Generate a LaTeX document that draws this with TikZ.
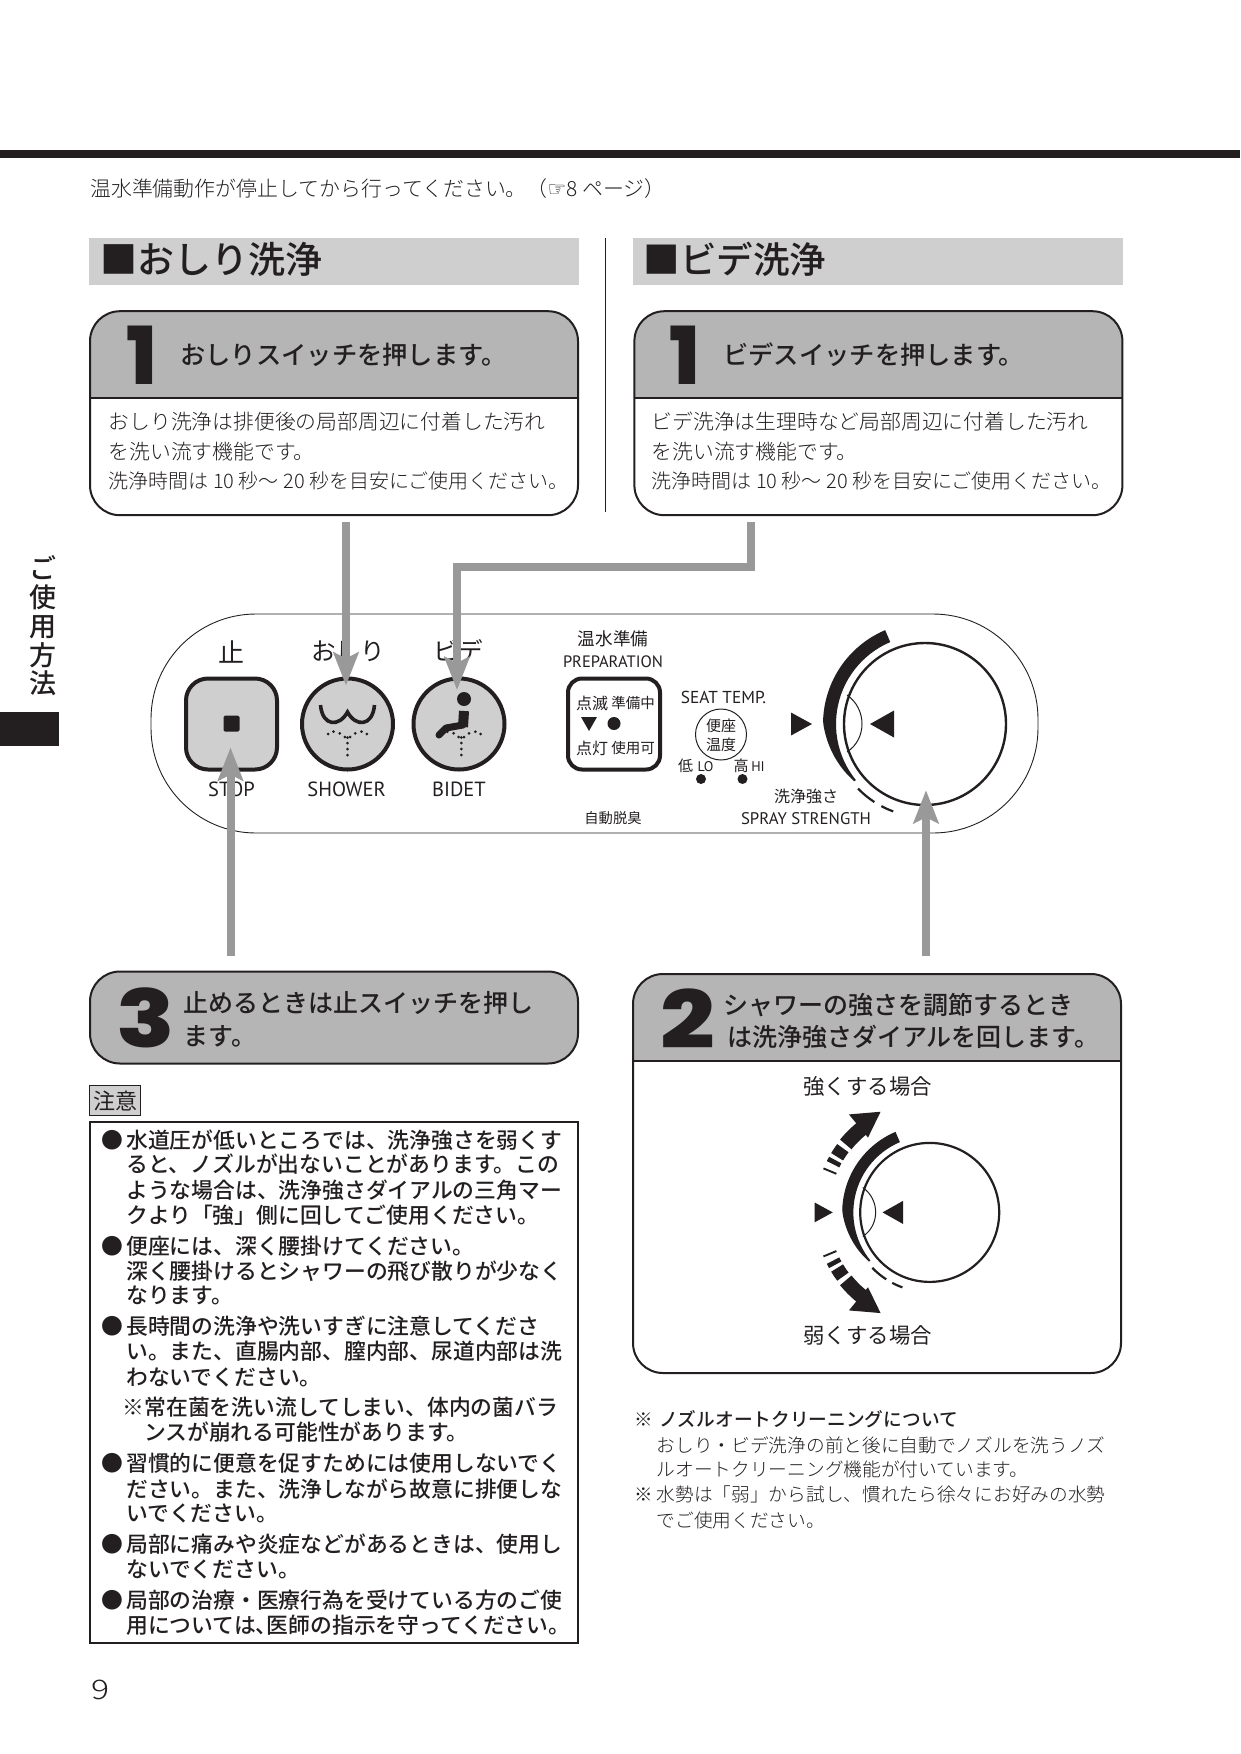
\documentclass[tikz,border=0pt]{standalone}
\usepackage{fontspec}
\setmainfont{Noto Sans CJK JP}
\newfontfamily\lightjp{Noto Sans CJK JP Light}
\newfontfamily\medjp{Noto Sans CJK JP Medium}
\newfontfamily\numfont{Poppins ExtraBold}
\newfontfamily\latnfont{PT Sans}
\newfontfamily\symfont{DejaVu Sans}
\usetikzlibrary{arrows.meta, positioning, calc}
\definecolor{ink}{HTML}{231F20}
\definecolor{headgray}{HTML}{B5B5B5}
\definecolor{bargray}{HTML}{CFCFCF}
\definecolor{arrowgray}{HTML}{999999}
\newcommand{\fsz}[1]{\fontsize{#1}{#1}\selectfont}
\tikzset{
  pics/spraydots/.style={code={
    \foreach \dx/\dy in {0/13.5, 0/19, 0/25, 0/31, 2.7/13, 7.7/9.3, 14/7.7, 19.3/10, -2.7/13, -7.7/9.3, -14/7.7, -19.3/10}
      \fill[ink] (\dx,\dy) circle[radius=1.5];
  }},
  pics/dialmark/.style={code={
    \fill[ink] plot[domain=247:141, samples=40] (\x:{89+2+11*min(1,(\x-141)/40)})
      -- plot[domain=141:247, samples=30] (\x:89) -- cycle;
    \draw[ink, line width=2.2pt] plot[domain=136:123, samples=8] (\x:93);
    \draw[ink, line width=2.2pt] plot[domain=118:110, samples=6] (\x:93);
    \fill[ink] (-134,-11.5) -- (-113,0) -- (-134,11.5) -- cycle;
    \fill[ink] (-31,-13.5) -- (-55,0) -- (-31,13.5) -- cycle;
    \draw[ink, line width=1pt] (-78,-29) .. controls (-58,-15) and (-58,15) .. (-78,28);
  }}
}
\begin{document}
\begin{tikzpicture}[
  x=1pt, y=-1pt,
  lite/.style={inner sep=0pt, anchor=base west, text=ink, font=\lightjp\fsz{#1}, yshift={-.45*#1 pt}},
  medm/.style={inner sep=0pt, anchor=base west, text=ink, font=\medjp\fsz{#1}, yshift={-.45*#1 pt}},
  regl/.style={inner sep=0pt, anchor=base west, text=ink, font=\fsz{#1}, yshift={-.45*#1 pt}},
  latn/.style={inner sep=0pt, anchor=base, text=ink, font=\latnfont\fsz{#1}, yshift={-.40*#1 pt}},
  numeral/.style={inner sep=0pt, text=ink, font=\numfont\fsz{80}},
  headbar/.style={fill=bargray, minimum width=490pt, minimum height=47pt, inner sep=0pt},
  stepbox/.style={draw=ink, line width=2pt, rounded corners=30pt, minimum width=488pt, minimum height=#1, inner sep=0pt},
  stepcap/.style={stepbox=204pt, fill=white, path picture={
    \fill[headgray, sharp corners] (path picture bounding box.north west) rectangle ([yshift=-87pt]path picture bounding box.north east);
    \draw[ink, line width=2pt, sharp corners] ([yshift=-87pt]path picture bounding box.north west) -- ([yshift=-87pt]path picture bounding box.north east);}},
  button/.style={draw=ink, line width=4pt, fill=bargray, minimum size=91pt, inner sep=0pt},
  grayarrow/.style={draw=arrowgray, line width=8pt, -{Stealth[length=33pt, width=25pt, inset=6pt]}}
]
  \useasboundingbox (0,0) rectangle (1240,1754);
  \fill[ink] (0,150) rectangle (1240,157.5);
  \node[lite=20.9] (pretext) at (90,187) {温水準備動作が停止してから行ってください。（{\symfont ☞}8 ページ）};

  \fill[ink] (0,712) rectangle (59,746);
  \node[inner sep=0pt, text=ink, align=center, font=\medjp\fontsize{27}{28.8}\selectfont] (sidetab) at (42.5,626) {ご\\使\\用\\方\\法};

  \node[headbar] (oshead) at (334,261.5) {};
  \node[headbar, right=54pt of oshead] (bdhead) {};
  \node[medm=37] (ostitle) at (100,257) {■おしり洗浄};
  \node[medm=36.5] (bdtitle) at (643.5,257) {■ビデ洗浄};
  \draw[ink, line width=.9pt] (605,238) -- (605,512);

  \node[stepcap, below=25pt of oshead] (osbox) {};
  \node[stepcap, below=25pt of bdhead] (bdbox) {};
  \node[numeral] (osnum) at (141.5,355) {1};
  \node[numeral] (bdnum) at (685,355) {1};
  \node[medm=25.3] (osstep) at (180,353) {おしりスイッチを押します。};
  \node[medm=25.3] (bdstep) at (723,353) {ビデスイッチを押します。};
  \node[lite=20.8] (osl1) at (108.5,420) {おしり洗浄は排便後の局部周辺に付着した汚れ};
  \node[lite=20.8] (osl2) at (108.5,450) {を洗い流す機能です。};
  \node[lite=20] (osl3) at (108.5,479.6) {洗浄時間は 10 秒〜 20 秒を目安にご使用ください。};
  \node[lite=20.8] (bdl1) at (651.5,420) {ビデ洗浄は生理時など局部周辺に付着した汚れ};
  \node[lite=20.8] (bdl2) at (651.5,450) {を洗い流す機能です。};
  \node[lite=20] (bdl3) at (651.5,479.6) {洗浄時間は 10 秒〜 20 秒を目安にご使用ください。};

  \node[draw=ink, line width=.9pt, rounded corners=105pt, minimum width=887pt, minimum height=219pt] (panel) at (594.5,723.5) {};
  \node[button, rounded corners=22pt] (stopbtn) at (231.5,724) {};
  \node[button, circle] (shower) at (347.5,724) {};
  \node[button, circle] (bidet) at (459,724) {};
  \fill[ink, rounded corners=1.5pt] (223.5,715.5) rectangle (239.5,731.5);
  \begin{scope}[shift={(shower.center)}]
    \draw[ink, line width=3.6pt] (-27,-19) .. controls (-25,3) and (-8,3) .. (0,-12) .. controls (8,3) and (25,3) .. (27,-19);
    \pic {spraydots};
  \end{scope}
  \begin{scope}[shift={(bidet.center)}]
    \fill[ink] (5,-25) circle[radius=7];
    \draw[ink, line width=10pt] (5,-13) -- (4,3);
    \draw[ink, line width=7pt, line join=round, line cap=round] (4,1) -- (-13,4) -- (-20,11);
    \pic at (2.3,0) {spraydots};
  \end{scope}
  \node[regl=26, anchor=base] (stoplab) at (231.5,651) {止};
  \node[regl=24.6, anchor=base] (showerlab) at (348,649.5) {おしり};
  \node[regl=24.6, anchor=base] (bidetlab) at (458.5,649.5) {ビデ};
  \node[latn=20.5] (stopen) at (231.5,788.5) {STOP};
  \node[latn=20.5] (showeren) at (346.6,788.5) {SHOWER};
  \node[latn=20.5] (biden) at (459,788.5) {BIDET};

  \node[regl=17.6, anchor=base] (preplab) at (613,637.5) {温水準備};
  \node[latn=16.5] (prepen) at (613,661) {PREPARATION};
  \node[draw=ink, line width=4pt, rounded corners=14pt, minimum width=92pt, minimum height=91pt, inner sep=0pt] (prepbox) at (614,724) {};
  \node[regl=16, anchor=base] (blink) at (592,702) {点滅};
  \node[regl=14.5, anchor=base] (prepa) at (633,702) {準備中};
  \node[regl=16, anchor=base] (lit) at (592,747) {点灯};
  \node[regl=14.5, anchor=base] (ready) at (633,747) {使用可};
  \fill[ink] (581,717) -- (597,717) -- (589,731) -- cycle;
  \fill[ink] (614,723.5) circle[radius=6.5];

  \node[latn=17.3] (seaten) at (723.5,697) {SEAT TEMP.};
  \node[draw=ink, line width=1pt, circle, minimum size=51pt, inner sep=0pt] (seatdial) at (721,734.5) {};
  \node[regl=15, anchor=base] (seata) at (721,724.5) {便座};
  \node[regl=15, anchor=base] (seatb) at (721,743.5) {温度};
  \node[regl=15, anchor=base] (lowlab) at (685.5,765) {低};
  \node[latn=14] (lowen) at (705.5,766) {LO};
  \node[regl=15, anchor=base] (highlab) at (741,765) {高};
  \node[latn=14] (highen) at (758,766) {HI};
  \fill[ink] (701,779) circle[radius=5];
  \fill[ink] (742.5,779) circle[radius=5];
  \node[regl=16, anchor=base] (spraylab) at (806,795) {洗浄強さ};
  \node[latn=16.8] (sprayen) at (806,817.5) {SPRAY STRENGTH};
  \node[regl=14.3, anchor=base] (odorlab) at (613,817.5) {自動脱臭};

  \node[draw=ink, line width=2.4pt, circle, minimum size=162pt, inner sep=0pt] (dial) at (925,724) {};
  \pic at (dial.center) {dialmark};

  \draw[grayarrow] ([xshift=-1.5pt,yshift=-6pt]osbox.south -| shower.north) -- ([xshift=-1.5pt,yshift=-9pt]shower.north);
  \coordinate (bdfoot) at ([yshift=-6pt]bdbox.south -| 751,0);
  \coordinate (bdbend) at (457,567);
  \draw[grayarrow] (bdfoot) |- (bdbend) -- (457,690);
  \coordinate (stopfoot) at ([xshift=-1pt]stopbtn.south |- 0,956);
  \draw[grayarrow] (stopfoot) -- ([xshift=-1pt,yshift=24pt]stopbtn.south);
  \coordinate (sprayfoot) at ([xshift=1pt]dial.south |- 0,956);
  \draw[grayarrow] (sprayfoot) -- ([xshift=1pt,yshift=16pt]dial.south);

  \node[stepbox=92pt, fill=headgray] (stopstep) at (334,1017.5) {};
  \node[numeral] (stopnum) at (145.5,1018) {\scalebox{1.2}[1]{3}};
  \node[medm=25] (stopa) at (183.5,1001) {止めるときは止スイッチを押し};
  \node[medm=25] (stopb) at (183.5,1034) {ます。};

  \node[draw=ink, line width=1pt, fill=bargray, minimum width=51pt, minimum height=30pt, inner sep=0pt] (warntag) at (115,1100) {};
  \node[regl=22, anchor=base] (warnlab) at (115,1100) {注意};
  \node[draw=ink, line width=2pt, minimum width=488pt, minimum height=521pt, inner sep=0pt] (warnbox) at (334,1382) {};
  \foreach \yb [count=\i] in {1138.3, 1244.6, 1325, 1461.5, 1543.1, 1599}
    \node[regl=21.8, anchor=base] (dot\i) at (112,\yb) {●};
  \foreach \xl/\yl/\ltxt [count=\i] in {
    126/1138.3/水道圧が低いところでは、洗浄強さを弱くす,
    126/1163/ると、ノズルが出ないことがあります。この,
    126/1188.7/ような場合は、洗浄強さダイアルの三角マー,
    126/1213.3/クより「強」側に回してご使用ください。,
    126/1244.6/便座には、深く腰掛けてください。,
    126/1269.2/深く腰掛けるとシャワーの飛び散りが少なく,
    126/1293.8/なります。,
    126/1325/長時間の洗浄や洗いすぎに注意してくださ,
    126/1349.7/い。また、直腸内部、膣内部、尿道内部は洗,
    126/1375.4/わないでください。,
    122.5/1405.6/※常在菌を洗い流してしまい、体内の菌バラ,
    144/1430.2/ンスが崩れる可能性があります。,
    126/1461.5/習慣的に便意を促すためには使用しないでく,
    126/1487.2/ださい。また、洗浄しながら故意に排便しな,
    126/1511.8/いでください。,
    126/1543.1/局部に痛みや炎症などがあるときは、使用し,
    126/1567.7/ないでください。,
    126/1599/局部の治療・医療行為を受けている方のご使,
    126/1623.6/用については、\kern-.5em 医師の指示を守ってください。}
    \node[medm=21.8] (warn\i) at (\xl,\yl) {\ltxt};
  \node[lite=27] (pagenum) at (91,1687) {\scalebox{1.25}[1]{9}};

  \node[stepcap, stepbox=399pt] (dialbox) at (877,1173.5) {};
  \node[numeral] (dialnum) at (688,1019) {\scalebox{1.2}[1]{2}};
  \node[medm=25] (diala) at (723.5,1003) {シャワーの強さを調節するとき};
  \node[medm=25] (dialb) at (727,1035.5) {は洗浄強さダイアルを回します。};
  \node[regl=21.4, anchor=base] (uplab) at (867.7,1084.5) {強くする場合};
  \node[regl=21.4, anchor=base] (downlab) at (867.7,1334) {弱くする場合};
  \node[draw=ink, line width=2.2pt, circle, minimum size=139pt, inner sep=0pt] (dialb2) at (929.7,1212.4) {};
  \pic[scale=.858] at (dialb2.center) {dialmark};
  \begin{scope}[shift={(dialb2.center)}]
    \foreach \sgn in {1,-1} {
      \draw[ink, line width=14pt] plot[domain=202:203, samples=2] ({\sgn*\x}:108);
      \draw[ink, line width=14pt] plot[domain=206.5:209, samples=3] ({\sgn*\x}:108);
      \draw[ink, line width=14pt] plot[domain=211:216.5, samples=4] ({\sgn*\x}:108);
      \draw[ink, line width=15pt] plot[domain=219:232, samples=6] ({\sgn*\x}:108);
      \fill[ink] ({\sgn*230.5}:127) -- ({\sgn*244}:112) -- ({\sgn*230.5}:97) -- cycle;
    }
  \end{scope}

  \node[lite=18.5, anchor=base] (noteamark) at (644,1418.5) {※};
  \node[medm=18.7] (notea) at (659,1418.5) {ノズルオートクリーニングについて};
  \node[lite=18.7] (noteb) at (656.5,1444) {おしり・ビデ洗浄の前と後に自動でノズルを洗うノズ};
  \node[lite=18.7] (notec) at (656.5,1468.5) {ルオートクリーニング機能が付いています。};
  \node[lite=18.5, anchor=base] (notedmark) at (644,1493) {※};
  \node[lite=18.7] (noted) at (656.5,1493) {水勢は「弱」から試し、慣れたら徐々にお好みの水勢};
  \node[lite=18.7] (notee) at (656.5,1519) {でご使用ください。};
\end{tikzpicture}
\end{document}
